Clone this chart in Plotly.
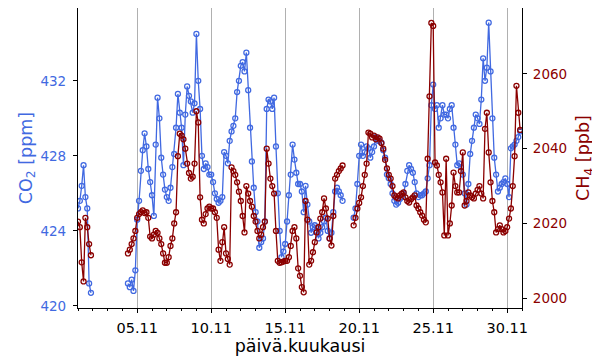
import pandas as pd
import plotly.graph_objects as go

# 3-hourly samples, 1.11. 00:00 ... 30.11. 21:00 (8 values per day)
times = pd.date_range("2023-11-01 00:00", "2023-11-30 21:00", freq="3h")
N = None

co2 = [
    425.2, 425.6, 426.4, 427.5, 425.8, 425.2, 421.2, 420.7,   # 01.11
    N, N, N, N, N, N, N, N,                                   # 02.11
    N, N, N, N, N, N, N, N,                                   # 03.11
    N, N, N, 421.2, 421.0, 421.4, 420.8, 421.9,               # 04.11
    424.6, 425.6, 427.2, 428.3, 429.2, 428.5, 427.3, 426.6,   # 05.11
    425.9, 424.8, 428.6, 431.1, 430.0, 427.9, 427.0, 426.2,   # 06.11
    425.8, 425.6, 426.3, 427.4, 428.1, 429.5, 431.3, 430.3,   # 07.11
    429.5, 427.5, 430.2, 431.7, 431.2, 430.9, 430.3, 430.8,   # 08.11
    434.5, 432.0, 430.5, 428.0, 427.3, 427.6, 427.4, 427.0,   # 09.11
    427.0, 426.6, 426.0, 425.7, 425.5, 425.6, 425.8, 428.2,   # 10.11
    428.0, 427.6, 428.8, 429.3, 429.6, 430.0, 431.4, 432.0,   # 11.11
    432.8, 433.0, 432.5, 433.5, 431.5, 429.5, 427.7, 426.3,   # 12.11
    425.0, 424.5, 423.1, 423.4, 423.6, 424.5, 430.5, 431.0,   # 13.11
    430.9, 430.5, 431.1, 428.5, 426.0, 424.0, 422.6, 422.9,   # 14.11
    423.3, 424.5, 425.9, 427.0, 428.6, 427.8, 427.1, 426.5,   # 15.11
    426.5, 426.1, 425.0, 426.4, 425.4, 424.5, 423.9, 424.2,   # 16.11
    424.3, 424.0, 423.6, 423.9, 424.2, 424.5, 424.7, 424.0,   # 17.11
    423.6, 423.9, 425.0, 426.1, 426.3, 426.1, 425.9, 425.6,   # 18.11
    N, N, N, N, N, 424.7, 425.2, 426.5,                       # 19.11
    428.0, 428.6, 428.0, 428.2, 428.5, 428.4, 427.9, 428.2,   # 20.11
    428.5, 429.0, 428.8, 428.8, 428.7, 428.3, 427.9, 427.0,   # 21.11
    426.8, 426.5, 426.0, 425.6, 425.4, 425.5, 425.7, 425.8,   # 22.11
    426.0, 426.5, 427.2, 427.5, 427.3, 427.1, 426.6, 426.0,   # 23.11
    425.8, 425.9, 425.9, 426.0, 426.1, 426.8, 427.5, 430.7,   # 24.11
    431.8, 430.5, 430.7, 429.5, 430.0, 430.7, 430.2, 430.2,   # 25.11
    430.0, 430.5, 430.7, 429.5, 428.6, 427.5, 427.6, 427.4,   # 26.11
    427.0, 426.0, 425.4, 426.5, 428.1, 428.8, 429.5, 430.2,   # 27.11
    430.0, 429.7, 431.0, 433.2, 432.0, 432.7, 435.1, 432.5,   # 28.11
    430.0, 427.9, 427.0, 426.1, 426.3, 426.5, 426.6, 426.8,   # 29.11
    426.5, 425.8, 428.4, 428.5, 428.6, 428.8, 429.0, 429.3,   # 30.11
]

ch4 = [
    2020.5, 2019.0, 2009.6, 2004.5, 2021.5, 2019.0, 2014.5, 2011.5,   # 01.11
    N, N, N, N, N, N, N, N,                                           # 02.11
    N, N, N, N, N, N, N, N,                                           # 03.11
    N, N, N, 2012.0, 2013.0, 2014.5, 2016.0, 2018.0,                  # 04.11
    2021.5, 2022.5, 2023.0, 2023.5, 2022.8, 2023.0, 2021.5, 2016.5,   # 05.11
    2016.0, 2017.0, 2018.0, 2017.5, 2016.0, 2014.5, 2012.0, 2009.5,   # 06.11
    2009.5, 2011.0, 2014.0, 2016.0, 2020.0, 2023.0, 2038.0, 2044.0,   # 07.11
    2043.5, 2042.5, 2040.0, 2036.0, 2033.5, 2032.0, 2032.5, 2036.0,   # 08.11
    2050.0, 2047.0, 2027.0, 2021.0, 2020.0, 2022.5, 2024.0, 2024.5,   # 09.11
    2024.0, 2024.0, 2023.0, 2021.5, 2013.0, 2010.0, 2015.0, 2019.0,   # 10.11
    2012.0, 2010.5, 2009.0, 2035.0, 2034.0, 2033.0, 2031.0, 2028.5,   # 11.11
    2026.0, 2022.0, 2017.6, 2030.0, 2028.0, 2026.0, 2024.5, 2022.0,   # 12.11
    2020.5, 2018.0, 2016.0, 2017.0, 2019.0, 2020.5, 2040.0, 2036.0,   # 13.11
    2032.0, 2030.0, 2028.0, 2018.0, 2010.0, 2009.5, 2009.6, 2009.8,   # 14.11
    2010.0, 2010.0, 2011.0, 2014.0, 2018.0, 2019.0, 2016.0, 2008.0,   # 15.11
    2006.0, 2003.0, 2001.6, 2026.0, 2021.0, 2009.0, 2010.0, 2012.3,   # 16.11
    2015.0, 2017.6, 2019.0, 2021.3, 2023.0, 2026.7, 2024.0, 2021.3,   # 17.11
    2016.0, 2014.1, 2022.0, 2032.0, 2033.0, 2034.0, 2034.7, 2035.5,   # 18.11
    N, N, N, N, N, 2019.5, 2021.5, 2024.0,                            # 19.11
    2025.5, 2027.0, 2030.0, 2033.0, 2036.0, 2044.3, 2044.0, 2043.0,   # 20.11
    2043.5, 2042.5, 2043.0, 2042.7, 2041.5, 2040.0, 2037.0, 2034.7,   # 21.11
    2033.0, 2032.0, 2030.0, 2027.5, 2027.0, 2026.7, 2027.5, 2028.0,   # 22.11
    2028.3, 2027.0, 2026.0, 2025.6, 2026.5, 2027.0, 2027.5, 2024.8,   # 23.11
    2024.0, 2023.0, 2022.1, 2021.0, 2020.3, 2037.3, 2054.0, 2073.6,   # 24.11
    2072.8, 2036.3, 2035.5, 2033.0, 2031.0, 2028.3, 2016.8, 2037.3,   # 25.11
    2016.8, 2020.0, 2024.8, 2033.6, 2030.0, 2028.3, 2028.3, 2034.0,   # 26.11
    2039.0, 2024.8, 2026.0, 2028.3, 2027.5, 2027.0, 2026.7, 2028.0,   # 27.11
    2029.0, 2030.0, 2028.0, 2026.7, 2045.3, 2049.6, 2039.0, 2031.0,   # 28.11
    2026.0, 2023.0, 2017.6, 2018.5, 2019.5, 2018.5, 2017.6, 2018.0,   # 29.11
    2019.0, 2021.3, 2024.0, 2030.0, 2038.0, 2056.8, 2049.6, 2045.0,   # 30.11
]

xtick_vals = ["2023-11-05", "2023-11-10", "2023-11-15", "2023-11-20", "2023-11-25", "2023-11-30"]
xtick_text = ["05.11", "10.11", "15.11", "20.11", "25.11", "30.11"]
co2_ticks = [420, 424, 428, 432]
ch4_ticks = [2000, 2020, 2040, 2060]

BLUE = "#4169E1"
RED = "#8B0000"
FONT = "DejaVu Sans"

fig = go.Figure()
fig.add_trace(go.Scatter(
    x=times, y=co2, mode="lines+markers", name="CO2",
    line=dict(color=BLUE, width=1.3),
    marker=dict(symbol="circle-open", size=5, color=BLUE, line=dict(width=1.3)),
    connectgaps=False, yaxis="y"))
fig.add_trace(go.Scatter(
    x=times, y=ch4, mode="lines+markers", name="CH4",
    line=dict(color=RED, width=1.3),
    marker=dict(symbol="circle-open", size=5, color=RED, line=dict(width=1.3)),
    connectgaps=False, yaxis="y2"))

# the page body has an 8 px margin, so the figure is 592x352 and shifted
fig.update_layout(
    width=592, height=352,
    margin=dict(l=70, r=78, t=0, b=52),
    paper_bgcolor="white", plot_bgcolor="white",
    showlegend=False,
    font=dict(family=FONT, size=13, color="black"),
    xaxis=dict(
        range=["2023-11-01", "2023-12-01"],
        tickvals=xtick_vals, ticktext=xtick_text,
        ticks="outside", ticklen=4, tickcolor="black",
        ticklabelstandoff=2,
        showgrid=True, gridcolor="#b0b0b0", gridwidth=1,
        showline=True, linecolor="black", linewidth=1.2, mirror=True,
        zeroline=False,
        minor=dict(dtick=86400000, tick0="2023-11-01", ticks="outside",
                   ticklen=2, tickcolor="black", showgrid=False),
        title=dict(text="päivä.kuukausi", font=dict(size=17.5, color="black"), standoff=2),
        tickfont=dict(size=14.5, color="black"),
    ),
    yaxis=dict(
        range=[419.89, 435.88],
        tickvals=co2_ticks,
        ticks="outside", ticklen=4, tickcolor="black",
        ticklabelstandoff=4,
        showgrid=False, zeroline=False,
        showline=True, linecolor="black", linewidth=1.2,
        tickfont=dict(size=13.5, color=BLUE),
        title=dict(text="CO<sub>2</sub> [ppm]", font=dict(size=17.5, color=BLUE), standoff=3),
    ),
    yaxis2=dict(
        range=[1997.4, 2077.6],
        tickvals=ch4_ticks,
        overlaying="y", side="right",
        ticks="outside", ticklen=4, tickcolor="black",
        ticklabelstandoff=3,
        showgrid=False, zeroline=False,
        showline=True, linecolor="black", linewidth=1.2,
        tickfont=dict(size=13.5, color=RED),
        title=dict(text="CH<sub>4</sub> [ppb]", font=dict(size=17.5, color=RED), standoff=10),
    ),
)

fig.write_html("out.html")
